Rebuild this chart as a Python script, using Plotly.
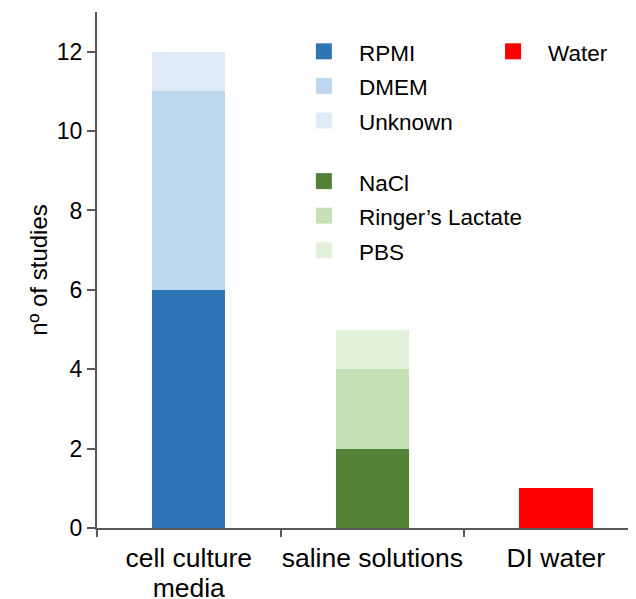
import plotly.graph_objects as go

categories = ["cell culture<br>media", "saline solutions", "DI water"]

rpmi = [6, 0, 0]
dmem = [5, 0, 0]
unknown = [1, 0, 0]
nacl = [0, 2, 0]
ringer = [0, 2, 0]
pbs = [0, 1, 0]
water = [0, 0, 1]

series = [
    ("RPMI", rpmi, "#2E75B6", "blue", "legend"),
    ("DMEM", dmem, "#BDD7EE", "blue", "legend"),
    ("Unknown", unknown, "#DEEBF7", "blue", "legend"),
    ("NaCl", nacl, "#538135", "green", "legend"),
    ("Ringer’s Lactate", ringer, "#C5E0B4", "green", "legend"),
    ("PBS", pbs, "#E2F0D9", "green", "legend"),
    ("Water", water, "#FF0000", "red", "legend2"),
]

yticks = [0, 2, 4, 6, 8, 10, 12]

fig = go.Figure()
xs = list(range(len(categories)))
for name, vals, color, grp, leg in series:
    fig.add_trace(go.Bar(
        x=xs, y=vals, name=name, marker=dict(color=color, line=dict(width=0)),
        width=0.4, showlegend=False,
    ))
for name, vals, color, grp, leg in series:
    fig.add_trace(go.Scatter(
        x=[None], y=[None], mode="markers",
        name="<span style='font-size:22.5px'>%s</span>" % name, legendgroup=grp,
        marker=dict(symbol="square", size=16, color=color), legend=leg,
    ))

# larger glyphs inside spans, tighter line spacing from the base tick font
cat_text = ["<br>".join("<span style='font-size:26.5px'>%s</span>" % part
                        for part in c.split("<br>")) for c in categories]

# the page body adds an 8px margin, so the figure is sized to fit the window
font = "Liberation Sans, Arial, sans-serif"
fig.update_layout(
    width=628, height=591,
    barmode="stack",
    plot_bgcolor="white", paper_bgcolor="white",
    margin=dict(l=89, r=0, t=4, b=71, autoexpand=False),
    font=dict(family=font, size=22, color="#000000"),
    legend=dict(
        x=0.356, y=0.967, xanchor="left", yanchor="top",
        traceorder="grouped", tracegroupgap=26, itemwidth=60,
        font=dict(size=24.3), bgcolor="rgba(0,0,0,0)",
    ),
    legend2=dict(
        x=0.707, y=0.967, xanchor="left", yanchor="top", itemwidth=60,
        font=dict(size=24.3), bgcolor="rgba(0,0,0,0)",
    ),
    xaxis=dict(
        range=[-0.5, 2.437], tickmode="array", tickvals=xs, ticktext=cat_text,
        showline=True, linecolor="#595959", linewidth=2,
        ticks="", showgrid=False, zeroline=False, automargin=False,
        tickfont=dict(size=23), ticklabelstandoff=9,
    ),
    # main y axis: line, tick marks and labels
    yaxis=dict(
        range=[0, 13], tickmode="array", tickvals=yticks,
        showline=True, linecolor="#595959", linewidth=2,
        ticks="outside", ticklen=8, tickwidth=2, tickcolor="#595959",
        showgrid=False, zeroline=False, automargin=False,
        tickfont=dict(size=23),
    ),
    # overlay y axis: carries the title at a fixed distance from the axis
    yaxis2=dict(
        overlaying="y", matches="y", anchor="x", side="left",
        tickmode="array", tickvals=yticks, showticklabels=False,
        ticks="outside", ticklen=8, tickwidth=2, tickcolor="#595959",
        showgrid=False, zeroline=False, showline=False, automargin=False,
        title=dict(text="nº of studies", font=dict(size=24), standoff=33),
    ),
    # overlay x axis: category boundary tick marks
    xaxis2=dict(
        overlaying="x", matches="x", anchor="y", side="bottom",
        tickmode="array", tickvals=[-0.5, 0.5, 1.5], ticktext=["", "", ""],
        ticks="outside", ticklen=8, tickwidth=2, tickcolor="#595959",
        showgrid=False, zeroline=False, showline=False, automargin=False,
    ),
)
fig.add_trace(go.Scatter(x=[None], y=[None], xaxis="x2", yaxis="y",
                         showlegend=False))
fig.add_trace(go.Scatter(x=[None], y=[None], xaxis="x", yaxis="y2",
                         showlegend=False))

fig.write_html("out.html")
